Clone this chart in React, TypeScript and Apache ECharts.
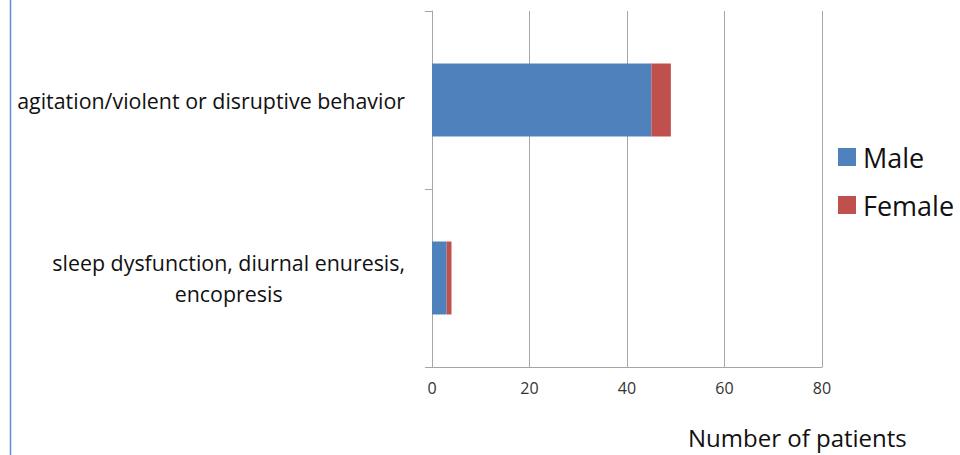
import React, { useEffect, useRef } from "react";
import * as echarts from "echarts";

// Presenting complaints, top to bottom
const categories = [
  "agitation/violent or disruptive behavior",
  "sleep dysfunction, diurnal enuresis,\nencopresis",
];
const maleCounts = [45, 3];
const femaleCounts = [4, 1];
const seriesNames = ["Male", "Female"];
const xTicks = [0, 20, 40, 60, 80];

const FONT = "'Open Sans', 'Liberation Sans', sans-serif";
const GRID_COLOR = "#a6a6a6";

export default function App() {
  const ref = useRef<HTMLDivElement>(null);

  useEffect(() => {
    document.body.style.margin = "0";
    if (!ref.current) return;
    const chart = echarts.init(ref.current, undefined, { renderer: "svg" });

    // Multi-line category labels have their lines centered on each other
    const formatLabel = (value: string) =>
      value
        .split("\n")
        .map((line) => `{c|${line}}`)
        .join("\n");

    chart.setOption({
      animation: false,
      backgroundColor: "#ffffff",
      textStyle: { fontFamily: FONT },
      title: {
        text: "Number of patients",
        left: 683,
        top: 420,
        textStyle: {
          fontFamily: FONT,
          fontSize: 24,
          fontWeight: "normal",
          color: "#111",
        },
      },
      legend: {
        orient: "vertical",
        left: 833,
        top: 136,
        itemWidth: 18,
        itemHeight: 18,
        itemGap: 16,
        icon: "rect",
        data: seriesNames,
        textStyle: {
          fontFamily: FONT,
          fontSize: 27,
          color: "#111",
          lineHeight: 32,
          padding: [0, 0, 0, 2],
        },
      },
      grid: { left: 432, right: 138, top: 11, bottom: 88 },
      xAxis: {
        type: "value",
        min: xTicks[0],
        max: xTicks[xTicks.length - 1],
        interval: 20,
        axisLine: { show: true, lineStyle: { color: GRID_COLOR, width: 1 } },
        axisTick: { show: false },
        splitLine: { show: true, lineStyle: { color: GRID_COLOR, width: 1 } },
        axisLabel: {
          fontFamily: FONT,
          fontSize: 16,
          color: "#333",
          margin: 13,
        },
      },
      yAxis: {
        type: "category",
        inverse: true,
        data: categories,
        axisLine: { show: true, lineStyle: { color: GRID_COLOR, width: 1 } },
        axisTick: { show: true, length: 7, lineStyle: { color: GRID_COLOR } },
        splitLine: { show: false },
        axisLabel: {
          margin: 27,
          color: "#111",
          fontFamily: FONT,
          fontSize: 21.4,
          lineHeight: 31,
          formatter: formatLabel,
          rich: {
            c: {
              align: "center",
              fontFamily: FONT,
              fontSize: 21.4,
              lineHeight: 31,
              color: "#111",
            },
          },
        },
      },
      series: [
        {
          name: seriesNames[0],
          type: "bar",
          stack: "patients",
          data: maleCounts,
          barCategoryGap: "59%",
          itemStyle: { color: "#4F81BD" },
        },
        {
          name: seriesNames[1],
          type: "bar",
          stack: "patients",
          data: femaleCounts,
          barCategoryGap: "59%",
          itemStyle: { color: "#C0504D" },
        },
      ],
      graphic: [
        {
          type: "rect",
          left: 0,
          top: 0,
          z: 100,
          shape: { x: 0, y: 0, width: 10, height: 455 },
          style: { fill: "#ffffff" },
        },
        {
          type: "line",
          z: 101,
          shape: { x1: 10.5, y1: 0, x2: 10.5, y2: 455 },
          style: { stroke: "#5b8fd9", lineWidth: 1.5 },
        },
      ],
    });

    return () => chart.dispose();
  }, []);

  return <div ref={ref} style={{ width: 960, height: 455 }} />;
}
